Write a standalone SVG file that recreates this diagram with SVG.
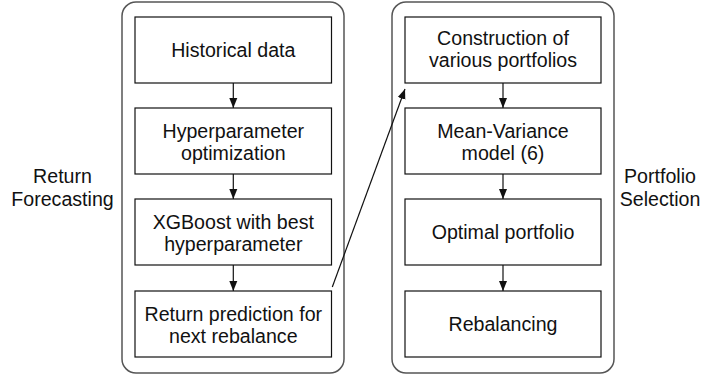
<svg xmlns="http://www.w3.org/2000/svg" width="707" height="375" viewBox="0 0 707 375">
<defs>
<style>
text{font-family:"Liberation Sans",Arial,Helvetica,sans-serif;font-size:19.6px;fill:#111;text-anchor:middle}
.box{fill:#fff;stroke:#111;stroke-width:1.2}
.cont{fill:#fff;stroke:#555;stroke-width:1.5}
.edge{stroke:#111;stroke-width:1.2;fill:none}
</style>
<marker id="ah" viewBox="0 0 10 10" refX="10" refY="5" markerWidth="10" markerHeight="10" markerUnits="userSpaceOnUse" orient="auto">
<path d="M0,1 L10,5 L0,9 Z" fill="#111"/>
</marker>
</defs>
<rect width="707" height="375" fill="#fff"/>
<g id="group-forecasting">
<rect class="cont" x="122" y="2" width="222" height="371" rx="14"/>
<text x="62.5" y="183">Return</text>
<text x="62.5" y="205.5">Forecasting</text>
</g>
<g id="group-selection">
<rect class="cont" x="392" y="2" width="222" height="371" rx="14"/>
<text x="660" y="183">Portfolio</text>
<text x="660" y="205.5">Selection</text>
</g>
<g id="n-historical"><rect class="box" x="135" y="17" width="196.5" height="66"/><text x="233.3" y="57">Historical data</text></g>
<g id="n-hyper"><rect class="box" x="135" y="108" width="196.5" height="66"/><text x="233.3" y="137.5">Hyperparameter</text><text x="233.3" y="159.5">optimization</text></g>
<g id="n-xgb"><rect class="box" x="135" y="199" width="196.5" height="66"/><text x="233.3" y="228.5">XGBoost with best</text><text x="233.3" y="250.5">hyperparameter</text></g>
<g id="n-pred"><rect class="box" x="135" y="291" width="196.5" height="66"/><text x="233.3" y="320.5">Return prediction for</text><text x="233.3" y="342.5">next rebalance</text></g>
<g id="n-construct"><rect class="box" x="405" y="17" width="196" height="66"/><text x="503" y="45">Construction of</text><text x="503" y="67">various portfolios</text></g>
<g id="n-mv"><rect class="box" x="405" y="108" width="196" height="66"/><text x="503" y="137.5">Mean-Variance</text><text x="503" y="159.5">model (6)</text></g>
<g id="n-opt"><rect class="box" x="405" y="199" width="196" height="66"/><text x="503" y="239">Optimal portfolio</text></g>
<g id="n-rebal"><rect class="box" x="405" y="291" width="196" height="66"/><text x="503" y="331">Rebalancing</text></g>
<g id="connectors">
<line class="edge" x1="233.3" y1="83" x2="233.3" y2="108" marker-end="url(#ah)"/>
<line class="edge" x1="233.3" y1="174" x2="233.3" y2="199" marker-end="url(#ah)"/>
<line class="edge" x1="233.3" y1="265" x2="233.3" y2="291" marker-end="url(#ah)"/>
<line class="edge" x1="503" y1="83" x2="503" y2="108" marker-end="url(#ah)"/>
<line class="edge" x1="503" y1="174" x2="503" y2="199" marker-end="url(#ah)"/>
<line class="edge" x1="503" y1="265" x2="503" y2="291" marker-end="url(#ah)"/>
<line class="edge" x1="332.3" y1="287" x2="405" y2="89" marker-end="url(#ah)"/>
</g>
</svg>
